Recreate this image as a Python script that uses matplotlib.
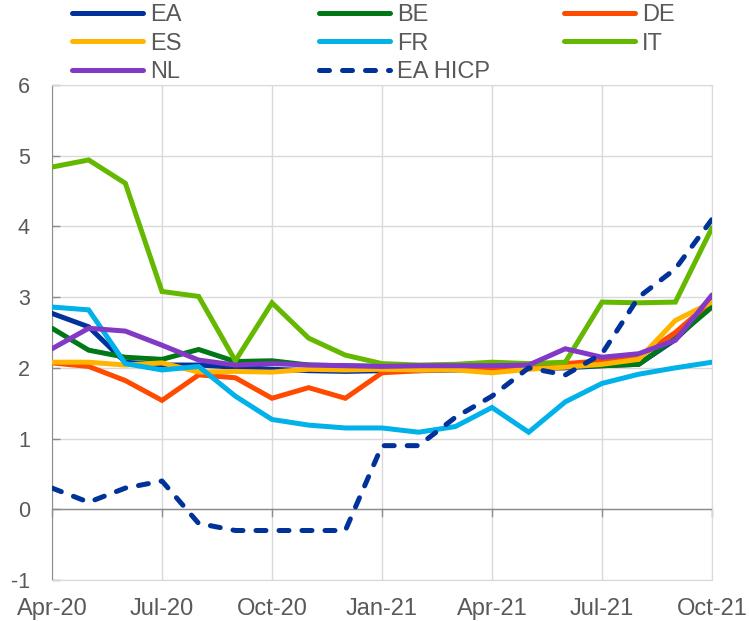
import matplotlib
matplotlib.use("Agg")
import matplotlib.pyplot as plt
import numpy as np

plt.rcParams['font.family'] = ['Liberation Sans', 'DejaVu Sans']
plt.rcParams['axes.unicode_minus'] = False

months = ["Apr-20", "May-20", "Jun-20", "Jul-20", "Aug-20", "Sep-20", "Oct-20", "Nov-20", "Dec-20",
          "Jan-21", "Feb-21", "Mar-21", "Apr-21", "May-21", "Jun-21", "Jul-21", "Aug-21", "Sep-21", "Oct-21"]
tick_labels = ["Apr-20", "Jul-20", "Oct-20", "Jan-21", "Apr-21", "Jul-21", "Oct-21"]

EA = [2.77, 2.58, 2.08, 2.04, 2.04, 2.01, 1.98, 1.96, 1.95, 1.96, 1.96, 1.97, 1.98, 1.99, 2.00, 2.03, 2.05, 2.40, 2.90]
BE = [2.56, 2.25, 2.15, 2.12, 2.26, 2.09, 2.10, 2.04, 2.03, 2.02, 2.02, 2.02, 2.02, 2.02, 2.02, 2.03, 2.05, 2.42, 2.86]
DE = [2.07, 2.02, 1.82, 1.54, 1.90, 1.86, 1.57, 1.72, 1.57, 1.93, 1.96, 1.98, 1.99, 2.04, 2.06, 2.10, 2.15, 2.50, 2.95]
ES = [2.08, 2.08, 2.04, 2.07, 1.94, 1.95, 1.94, 1.98, 1.97, 1.98, 1.97, 1.97, 1.93, 1.98, 2.01, 2.05, 2.12, 2.67, 2.93]
FR = [2.86, 2.82, 2.06, 1.97, 2.02, 1.60, 1.27, 1.19, 1.15, 1.15, 1.09, 1.17, 1.44, 1.09, 1.52, 1.78, 1.91, 2.00, 2.08]
IT = [4.84, 4.94, 4.61, 3.08, 3.01, 2.10, 2.92, 2.42, 2.18, 2.06, 2.04, 2.05, 2.08, 2.06, 2.08, 2.93, 2.92, 2.93, 3.98]
NL = [2.27, 2.56, 2.52, 2.32, 2.11, 2.04, 2.06, 2.04, 2.03, 2.02, 2.03, 2.03, 2.03, 2.04, 2.27, 2.15, 2.20, 2.39, 3.03]
EA_HICP = [0.3, 0.1, 0.3, 0.4, -0.2, -0.3, -0.3, -0.3, -0.3, 0.9, 0.9, 1.3, 1.6, 2.0, 1.9, 2.2, 3.0, 3.4, 4.1]

series = [("EA", EA, "#003299"), ("BE", BE, "#007816"), ("DE", DE, "#FF4B00"),
          ("ES", ES, "#FFB400"), ("FR", FR, "#00B1EA"), ("IT", IT, "#65B800"),
          ("NL", NL, "#8139C6")]

fig = plt.figure(figsize=(7.49, 6.21), dpi=100)
ax = fig.add_axes([52/749, 41/621, 660/749, 495/621])

x = np.arange(len(months))
LW = 3.6
handles = {}
for name, vals, col in series:
    h, = ax.plot(x, vals, color=col, lw=LW, solid_joinstyle='miter', solid_capstyle='round',
                 label=name, zorder=3)
    handles[name] = h
h, = ax.plot(x, EA_HICP, color="#003299", lw=LW, dashes=(2.0, 2.6), dash_capstyle='round',
             label="EA HICP", zorder=3)
handles["EA HICP"] = h

ax.set_xlim(0, len(months) - 1)
ax.set_ylim(-1, 6)
tick_pos = [months.index(t) for t in tick_labels]
ax.set_xticks(tick_pos)
ax.set_xticklabels(tick_labels)
ax.set_yticks(range(-1, 7))

grid_c = "#D9D9D9"
ax.grid(True, color=grid_c, lw=1.0, zorder=0)
for s in ["top", "right", "bottom"]:
    ax.spines[s].set_color(grid_c)
ax.spines["left"].set_color("#8C8C8C")
ax.axhline(0, color="#8C8C8C", lw=1.0, zorder=2)
ax.tick_params(axis='y', colors="#8C8C8C", labelcolor="#595959", labelsize=15.5, length=6,
               width=1, direction='in', pad=16)
ax.tick_params(axis='x', colors="#8C8C8C", labelcolor="#595959", labelsize=17, length=0, pad=13)
# tick marks below the zero line
for t in tick_pos:
    ax.plot([t, t], [0, -0.09], color="#8C8C8C", lw=1.0, zorder=2, clip_on=False)

cols = [["EA", "ES", "NL"], ["BE", "FR", "EA HICP"], ["DE", "IT"]]
col_x = [70/749, 317/749, 562/749]
for cx, names in zip(col_x, cols):
    leg = fig.legend([handles[n] for n in names], names, loc='upper left',
                     bbox_to_anchor=(cx, 1.0 - 2/621), frameon=False, fontsize=17,
                     handlelength=3.0, handletextpad=0.3, labelspacing=0.27,
                     borderaxespad=0, borderpad=0.1)
    for t in leg.get_texts():
        t.set_color("#595959")
    for ln in leg.get_lines():
        ln.set_solid_capstyle('round')
        ln.set_dash_capstyle('round')

fig.savefig("out.png", dpi=100)
